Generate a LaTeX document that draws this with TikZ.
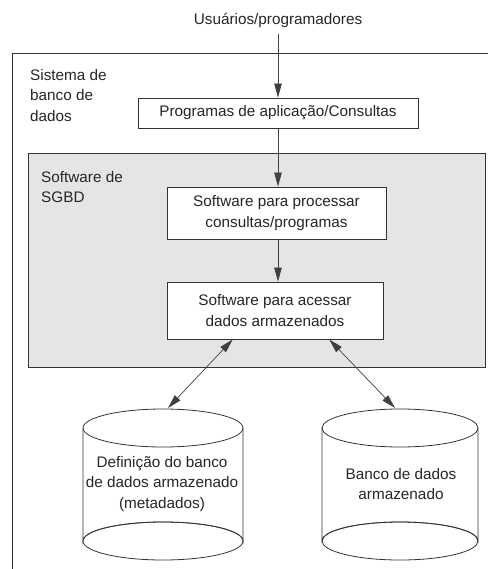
\documentclass[tikz,border=0pt]{standalone}
\usepackage{fontspec}
\setmainfont{Liberation Sans}
\usetikzlibrary{arrows.meta,calc}
\begin{document}
\begin{tikzpicture}[x=1pt,y=-1pt,
  every node/.style={font=\fontsize{15.3}{20.5}\selectfont, text=black!85},
  box/.style={draw=black!80, fill=white, line width=0.9pt, inner sep=0pt, align=center},
  conn/.style={draw=black!75, line width=0.7pt},
  tip/.tip={Triangle[length=14pt,width=7.5pt]},
  arr/.style={conn, -tip},
  darr/.style={conn, tip-tip},
  lbl/.style={align=left, anchor=north west, inner sep=0pt},
  cyl/.style={draw=black!80, line width=0.8pt}
]
\useasboundingbox (0,0) rectangle (488,569);
% outer system frame (open to the right and bottom)
\draw[draw=black!80, line width=0.9pt] (12,569) -- (12,53) -- (488,53);
\node[lbl] (sys) at (30,69) {Sistema de\\banco de\\dados};
% DBMS software area
\node[draw=black!80, fill=black!10, line width=0.9pt, minimum width=457pt, minimum height=214pt, inner sep=0pt] (sgbd) at (256.5,260) {};
\node[lbl] (sgbdlbl) at (41,171) {Software de\\SGBD};
% top label
\node[inner sep=0pt] (users) at (278,20) {Usuários/programadores};
% boxes
\node[box, minimum width=280pt, minimum height=30pt] (app) at (278,113) {Programas de aplicação/Consultas};
\node[box, minimum width=219pt, minimum height=52pt] (proc) at (276.5,213) {Software para processar\\consultas/programas};
\node[box, minimum width=216pt, minimum height=57pt] (acc) at (275,310.5) {Software para acessar\\dados armazenados};
% arrows
\draw[arr, shorten <=7pt] (users.south -| app.north) -- (app.north);
\draw[arr] (app.south -| 278,0) -- (proc.north -| 278,0);
\draw[arr] (proc.south -| 278,0) -- (acc.north -| 278,0);
% cylinders
\draw[cyl] (83,428) -- (83,541) arc[start angle=180,end angle=360,x radius=80,y radius=19] -- (243,428);
\draw[cyl] (163,428) ellipse[x radius=80,y radius=19];
\draw[cyl] (163,541) ellipse[x radius=80,y radius=19];
\coordinate (metaTop) at (168,408);
\node[align=center, inner sep=0pt] (meta) at (162,484) {Definição do banco\\de dados armazenado\\(metadados)};
\draw[cyl] (322,428) -- (322,541) arc[start angle=180,end angle=360,x radius=78,y radius=19] -- (478,428);
\draw[cyl] (400,428) ellipse[x radius=78,y radius=19];
\draw[cyl] (400,541) ellipse[x radius=78,y radius=19];
\coordinate (dbTop) at (395,408);
\node[align=center, inner sep=0pt] (db) at (401,484) {Banco de dados\\armazenado};
% double arrows
\draw[darr] ($(acc.south west)!0.305!(acc.south east)$) -- (metaTop);
\draw[darr] ($(acc.south west)!0.75!(acc.south east)$) -- (dbTop);
\end{tikzpicture}
\end{document}
